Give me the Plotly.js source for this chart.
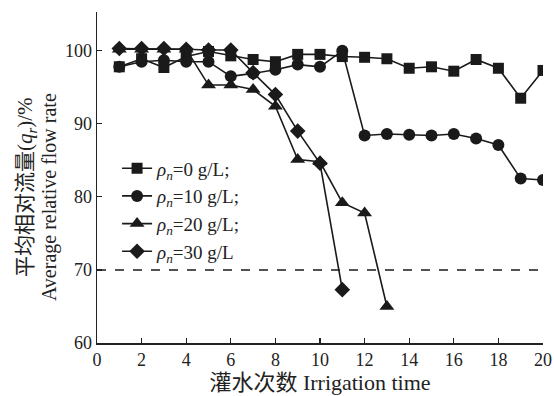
<!DOCTYPE html>
<html>
<head>
<meta charset="utf-8">
<script src="https://cdn.plot.ly/plotly-3.0.1.min.js"></script>
<style>html,body{margin:0;padding:0;background:#fff;}#chart{width:554px;height:396px;}</style>
</head>
<body>
<div id="chart"></div>
<script>
const irrigation = [1,2,3,4,5,6,7,8,9,10,11,12,13,14,15,16,17,18,19,20];
const flow0  = [97.8,98.9,97.7,99.2,99.9,99.3,98.8,98.5,99.5,99.5,99.2,99.1,98.9,97.6,97.8,97.2,98.8,97.6,93.5,97.3];
const flow10 = [97.8,98.5,98.7,98.5,98.5,96.5,96.9,97.4,98.1,97.8,100.0,88.4,88.6,88.5,88.4,88.6,88.0,87.1,82.5,82.3];
const flow20 = [100.2,100.2,100.2,100.2,95.3,95.3,94.7,92.4,85.1,84.8,79.2,77.8,65.0];
const flow30 = [100.3,100.3,100.3,100.2,100.1,100.1,97.0,94.0,89.0,84.6,67.3];
const thresholdX = [0,20];
const thresholdY = [70,70];
const seriesNames = ['<i>ρ</i><sub><i>n</i></sub>=0 g/L;','<i>ρ</i><sub><i>n</i></sub>=10 g/L;','<i>ρ</i><sub><i>n</i></sub>=20 g/L;','<i>ρ</i><sub><i>n</i></sub>=30 g/L'];
const xTicks = [0,2,4,6,8,10,12,14,16,18,20];
const yTicks = [60,70,80,90,100];
const yTitleCN = '平均相对流量(<i>q</i><sub><i>r</i></sub>)/%';
const yTitleEN = 'Average relative flow rate';
const xTitle = '灌水次数 Irrigation time';

const serif = 'Liberation Serif, Times New Roman, Noto Sans CJK SC, serif';
const lineStyle = {color:'#1a1a1a', width:1.6};
function mk(y, name, symbol, size){
  return {x: irrigation.slice(0, y.length), y: y, name: name, type:'scatter', mode:'lines+markers',
    line: lineStyle, marker:{symbol: symbol, size: size, color:'#1a1a1a'}};
}
const data = [
  mk(flow0, seriesNames[0], 'square', 11),
  mk(flow10, seriesNames[1], 'circle', 12),
  mk(flow20, seriesNames[2], 'triangle-up', 13),
  mk(flow30, seriesNames[3], 'diamond', 12),
  {x: thresholdX, y: thresholdY, type:'scatter', mode:'lines', showlegend:false, hoverinfo:'skip',
   line:{color:'#1a1a1a', width:1.5, dash:'dash'}}
];
const layout = {
  width:554, height:396,
  margin:{l:97, r:11, t:12, b:53},
  paper_bgcolor:'#ffffff', plot_bgcolor:'#ffffff',
  font:{family: serif, size:16, color:'#222'},
  showlegend:true,
  legend:{x:0.045, y:0.585, xanchor:'left', yanchor:'top', bgcolor:'rgba(0,0,0,0)',
    font:{family: serif, size:19, color:'#222'}, tracegroupgap:0, itemwidth:30},
  xaxis:{range:[0,20], tickvals:xTicks, ticktext:xTicks.map(String), ticks:'inside', ticklen:5,
    tickwidth:1.2, tickcolor:'#222', showline:true, linecolor:'#222', linewidth:1.5,
    showgrid:false, zeroline:false, mirror:false,
    tickfont:{family: serif, size:18, color:'#222'},
    title:{text: xTitle, font:{family: serif, size:22, color:'#222'}, standoff:1}},
  yaxis:{range:[60,105.3], tickvals:yTicks, ticktext:yTicks.map(String), ticks:'inside', ticklen:5,
    tickwidth:1.2, tickcolor:'#222', showline:true, linecolor:'#222', linewidth:1.5,
    showgrid:false, zeroline:false, mirror:false,
    tickfont:{family: serif, size:18, color:'#222'}},
  annotations:[
    {text: yTitleCN, xref:'paper', yref:'paper', x:-0.158, y:0.47, xanchor:'center', yanchor:'middle',
     textangle:-90, showarrow:false, font:{family: serif, size:21, color:'#222'}},
    {text: yTitleEN, xref:'paper', yref:'paper', x:-0.106, y:0.44, xanchor:'center', yanchor:'middle',
     textangle:-90, showarrow:false, font:{family: serif, size:20, color:'#222'}}
  ]
};
Plotly.newPlot('chart', data, layout, {staticPlot:true, displayModeBar:false});
</script>
</body>
</html>
